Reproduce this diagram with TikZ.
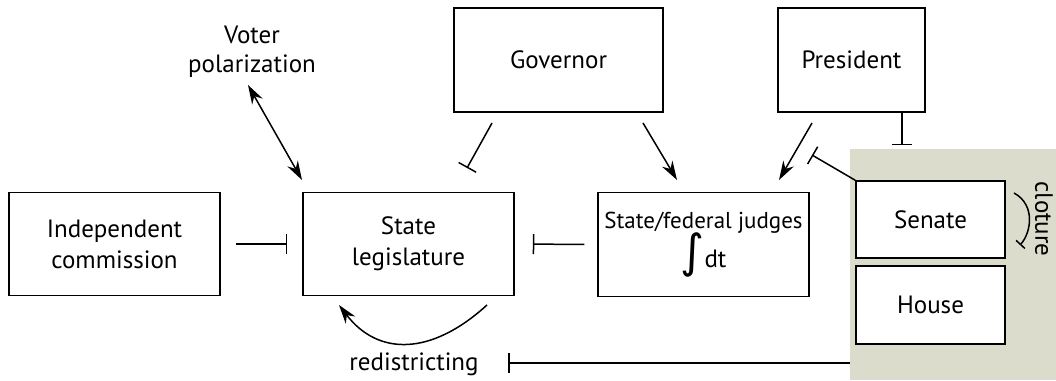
\documentclass[tikz,border=0pt]{standalone}
\usepackage{fontspec}
\setmainfont{PT Sans}
\newfontfamily\intfont{DejaVu Sans}
\usetikzlibrary{arrows.meta}
\definecolor{congbg}{RGB}{220,220,204}
\begin{document}
\begin{tikzpicture}[x=1pt,y=-1pt,
  box/.style={draw, fill=white, line width=1.5pt, inner sep=0pt, align=center, font=\fontsize{25}{31}\selectfont},
  lbl/.style={inner sep=0pt, align=center, font=\fontsize{25}{29}\selectfont},
  conn/.style={line width=1.5pt},
  act/.style={conn, -{Stealth[length=19pt,width=12pt]}},
  dbl/.style={conn, {Stealth[length=19pt,width=12pt]}-{Stealth[length=19pt,width=12pt]}},
  inh/.style={conn, -{Bar[width=20pt]}},
  inhs/.style={conn, -{Bar[width=12pt]}},
]
\useasboundingbox (0,0) rectangle (1056,380);
% Congress background
\node[fill=congbg, inner sep=0pt, minimum width=206pt, minimum height=231pt] (cong) at (953,264.5) {};
% boxes
\node[box, minimum width=211pt, minimum height=103pt] (ind) at (114.5,244) {Independent\\commission};
\node[box, minimum width=211pt, minimum height=103pt] (leg) at (408.5,244) {State\\legislature};
\node[box, minimum width=211pt, minimum height=104pt] (jud) at (703.5,244.5) {{\fontsize{23}{24}\selectfont State/federal judges}\\[-2pt]{\intfont\fontsize{46}{46}\selectfont ∫}dt};
\node[box, minimum width=209pt, minimum height=104pt] (gov) at (558.5,60) {Governor};
\node[box, minimum width=147pt, minimum height=104pt] (pres) at (851.5,60) {President};
\node[box, minimum width=149pt, minimum height=77pt] (sen) at (930.5,219.5) {Senate};
\node[box, minimum width=149pt, minimum height=78pt] (house) at (930.5,305) {House};
% labels
\node[lbl] (vp) at (252,52) {Voter\\polarization};
\node[lbl, anchor=base] (redis) at (414,370) {redistricting};
\node[lbl, rotate=-90] (clo) at (1044,219) {cloture};
% coordinates
\coordinate (v1) at (248,85);
\coordinate (v2) at (302,180);
\coordinate (g1) at (492,123);
\coordinate (g2) at (467,168);
\coordinate (g3) at (643,123);
\coordinate (g4) at (677,180);
\coordinate (p1) at (812,123);
\coordinate (p2) at (779,180);
\coordinate (p3) at (902,145);
\coordinate (s1) at (812,155);
\coordinate (c1) at (1014,193);
\coordinate (c2) at (1020,245);
\coordinate (r1) at (487,305);
\coordinate (r2) at (339,305);
\coordinate (rb) at (508,363);
% connectors
\draw[dbl] (v1) -- (v2);
\draw[inh, shorten <=15pt, shorten >=15pt] (ind) -- (leg);
\draw[inh, shorten <=13pt, shorten >=18pt] (jud) -- (leg);
\draw[inh] (g1) -- (g2);
\draw[act] (g3) -- (g4);
\draw[act] (p1) -- (p2);
\draw[inh] (pres.south -| p3) -- (p3);
\draw[inh] (sen.north west) -- (s1);
\draw[inhs] (c1) .. controls (1036,205) and (1031,233) .. (c2);
\draw[act] (r1) .. controls (431,356) and (378,356) .. (r2);
\draw[inh] (cong.west |- rb) -- (rb);
\end{tikzpicture}
\end{document}
